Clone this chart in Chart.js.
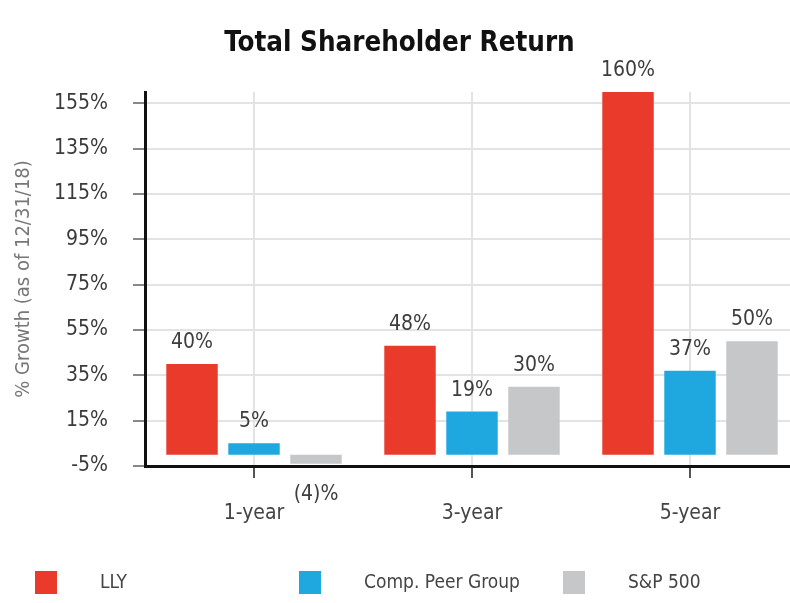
<!DOCTYPE html>
<html><head><meta charset="utf-8">
<script src="https://cdn.jsdelivr.net/npm/chart.js@4"></script>
<style>
html,body{margin:0;padding:0;background:#fff;overflow:hidden;width:790px;height:603px}
#wrap{position:relative;width:800px;height:603px}
</style></head>
<body><div id="wrap"><canvas id="c" width="800" height="603"></canvas></div>
<script>
const categories = ['1-year', '3-year', '5-year'];
const seriesNames = ['LLY', 'Comp. Peer Group', 'S&P 500'];
const llyValues = [40, 48, 160];
const peerValues = [5, 19, 37];
const spValues = [-4, 30, 50];
const yTickValues = [-5, 15, 35, 55, 75, 95, 115, 135, 155];
const seriesColors = ['#ea3a2b', '#1fa8e0', '#c6c7c9'];

const FONT = "'DejaVu Sans Condensed', 'DejaVu Sans', sans-serif";

const valueLabels = {
  id: 'valueLabels',
  afterDatasetsDraw(chart) {
    const ctx = chart.ctx;
    ctx.save();
    ctx.font = '21px ' + FONT;
    ctx.fillStyle = '#3d3d3d';
    ctx.textAlign = 'center';
    ctx.textBaseline = 'alphabetic';
    chart.data.datasets.forEach((ds, i) => {
      const meta = chart.getDatasetMeta(i);
      meta.data.forEach((bar, j) => {
        const v = ds.data[j];
        const txt = v < 0 ? '(' + (-v) + ')%' : v + '%';
        const y = v < 0 ? bar.y + 36 : bar.y - 16;
        ctx.fillText(txt, bar.x, y);
      });
    });
    ctx.restore();
  }
};

const bottomLegend = {
  id: 'bottomLegend',
  afterDraw(chart) {
    const ctx = chart.ctx;
    ctx.save();
    ctx.font = '19px ' + FONT;
    ctx.textBaseline = 'middle';
    ctx.textAlign = 'left';
    chart.data.datasets.forEach((ds, i) => {
      const x0 = 35 + i * 264;
      ctx.fillStyle = ds.backgroundColor;
      ctx.fillRect(x0, 571, 22, 23);
      ctx.fillStyle = '#444';
      ctx.fillText(ds.label, x0 + 65, 583);
    });
    ctx.restore();
  }
};

const seriesData = [llyValues, peerValues, spValues];

new Chart(document.getElementById('c'), {
  type: 'bar',
  data: {
    labels: categories,
    datasets: seriesNames.map((name, i) => ({
      label: name,
      data: seriesData[i],
      backgroundColor: seriesColors[i],
      borderWidth: 0,
      categoryPercentage: 0.853,
      barPercentage: 0.83
    }))
  },
  options: {
    responsive: false,
    animation: false,
    devicePixelRatio: 1,
    layout: { padding: { left: 0, right: 1, top: 0, bottom: 77 } },
    plugins: {
      legend: { display: false },
      tooltip: { enabled: false },
      title: {
        display: true,
        text: 'Total Shareholder Return',
        font: { family: FONT, size: 27.5, weight: 'bold' },
        color: '#111',
        padding: { top: 27, bottom: 32 }
      }
    },
    scales: {
      x: {
        grid: { offset: false, color: '#e3e3e3', lineWidth: 2, tickColor: '#555', tickLength: 12, tickWidth: 2 },
        border: { color: '#111', width: 3 },
        ticks: { font: { family: FONT, size: 21 }, color: '#444', padding: 23 },
        afterFit(s) { s.height = 60; }
      },
      y: {
        min: -5,
        max: 160,
        afterBuildTicks(s) { s.ticks = yTickValues.map(v => ({ value: v })); },
        grid: { color: '#e3e3e3', lineWidth: 2, tickColor: '#888', tickLength: 12, tickWidth: 2 },
        border: { color: '#111', width: 3 },
        ticks: { font: { family: FONT, size: 21 }, color: '#3a3a3a', padding: 25, callback: v => v + '%' },
        title: {
          display: true,
          text: '% Growth (as of 12/31/18)',
          font: { family: FONT, size: 20 },
          color: '#777',
          padding: { top: 12, bottom: 0 }
        },
        afterFit(s) { s.width = 145; }
      }
    }
  },
  plugins: [valueLabels, bottomLegend]
});
</script>
</body></html>
